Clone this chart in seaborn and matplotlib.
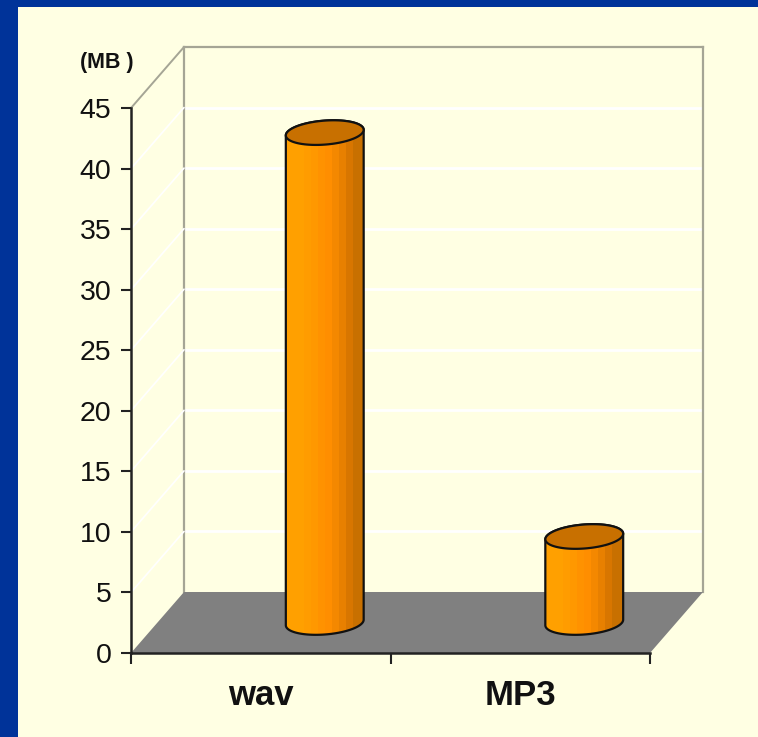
import numpy as np
import pandas as pd
import seaborn as sns
import matplotlib.pyplot as plt
from matplotlib.colors import ListedColormap
from matplotlib.patches import Polygon, Rectangle

# Values
formats = ['wav', 'MP3']
sizes_mb = [40.45, 7.1]
y_ticks = [0, 5, 10, 15, 20, 25, 30, 35, 40, 45]

W, H = 758, 737
NAVY = '#003399'
CREAM = '#FFFFE3'
WALL_EDGE = '#A5A595'
FLOOR = '#808080'
TOP_FACE = '#C87000'
BODY_BANDS = ['#FFA000', '#FFA000', '#FF9C00', '#FF9800', '#FF9200',
              '#FF8E00', '#F48800', '#E88000', '#D87600', '#C87000']

sns.set_theme(style='white')
plt.rcParams['font.family'] = ['Liberation Sans', 'DejaVu Sans']

df = pd.DataFrame({'format': formats, 'size': sizes_mb})

fig = plt.figure(figsize=(W / 100, H / 100), dpi=100, facecolor=NAVY)


def axes_px(left, top, right, bottom):
    # axes from pixel edges, y counted from the top of the picture
    a = fig.add_axes([left / W, 1 - bottom / H, (right - left) / W, (bottom - top) / H])
    a.patch.set_alpha(0)
    return a


# pixel geometry of the fake 3D box
X0, X1 = 131, 650
Y0, Y45 = 653, 108
DX, DY = 53, 61
PX_PER_MB = (Y0 - Y45) / 45

# background layer in pixels
bg = axes_px(0, 0, W, H)
bg.set_xlim(0, W)
bg.set_ylim(H, 0)
bg.axis('off')
bg.add_patch(Rectangle((18, 7), W - 18, H - 7, color=CREAM, lw=0))

# back wall: same scale as the front axis, pushed back by the depth
wall = axes_px(X0 + DX, Y45 - DY, X1 + DX, Y0 - DY)
wall.set_ylim(0, 45)
wall.set_xlim(0, 1)
wall.set_yticks(y_ticks[1:-1])
wall.set_xticks([])
wall.tick_params(left=False, labelleft=False)
wall.grid(axis='y', color='white', lw=2)
for name, sp in wall.spines.items():
    sp.set_color(WALL_EDGE)
    sp.set_linewidth(1.6)
wall.spines['bottom'].set_visible(False)

# left wall diagonals and floor
over = axes_px(0, 0, W, H)
over.set_xlim(0, W)
over.set_ylim(H, 0)
over.axis('off')
for v in y_ticks[1:-1]:
    y = Y0 - v * PX_PER_MB
    over.plot([X0, X0 + DX], [y, y - DY], color='white', lw=1.2, zorder=1)
over.plot([X0, X0 + DX], [Y45, Y45 - DY], color=WALL_EDGE, lw=1.4, zorder=1)
over.add_patch(Polygon([(X0, Y0), (X1, Y0), (X1 + DX, Y0 - DY), (X0 + DX, Y0 - DY)],
                       closed=True, color=FLOOR, lw=0, zorder=2))

# front axis with ticks and labels
ax = axes_px(X0, Y45, X1, Y0)
ax.set_xlim(-0.5, 1.5)
ax.set_ylim(0, 45)
ax.set_yticks(y_ticks)
ax.set_xticks([-0.5, 0.5, 1.5])
ax.set_xticklabels([])
ax.set_xticks([0, 1], minor=True)
ax.set_xticklabels(formats, minor=True, fontsize=25, fontweight='bold', color='#111111')
ax.tick_params(axis='y', left=True, length=7, width=1.5, color='#222222',
               labelsize=20.5, labelcolor='#111111', pad=7)
ax.tick_params(axis='x', which='major', bottom=True, length=8, width=1.5, color='#222222')
ax.tick_params(axis='x', which='minor', bottom=False, pad=15)
for name in ['top', 'right']:
    ax.spines[name].set_visible(False)
for name in ['left', 'bottom']:
    ax.spines[name].set_color('#222222')
    ax.spines[name].set_linewidth(1.8)
ax.text(-0.046, 1.084, '(MB )', transform=ax.transAxes, ha='center', va='center',
        fontsize=15.5, fontweight='bold', color='#111111')

# cylinders sit half way down the floor, axes run a little below zero for the round base
BAR_DX, BAR_DY = 64, 30.5
BELOW = 3
bar_ax = axes_px(X0 + BAR_DX, Y45 - BAR_DY, X1 + BAR_DX, Y0 - BAR_DY + BELOW * PX_PER_MB)
sns.barplot(data=df, x='format', y='size', width=0.3, ax=bar_ax)
bar_ax.axis('off')

MINOR = 12 / PX_PER_MB
SHEAR = 2.8 / PX_PER_MB
cmap = ListedColormap(BODY_BANDS)
t_low = np.linspace(np.pi, 2 * np.pi, 60)
t_up = np.linspace(0, np.pi, 60)
t_all = np.linspace(0, 2 * np.pi, 120)

for bar in list(bar_ax.patches):
    left, w, h = bar.get_x(), bar.get_width(), bar.get_height()
    cx, a = left + w / 2, w / 2
    bar.set_visible(False)
    xs = np.r_[cx + a * np.cos(t_low), cx + a * np.cos(t_up)]
    ys = np.r_[MINOR * np.sin(t_low) + SHEAR * np.cos(t_low),
               h + MINOR * np.sin(t_up) + SHEAR * np.cos(t_up)]
    verts = np.c_[xs, ys]
    clip = Polygon(verts, closed=True, transform=bar_ax.transData)
    im = bar_ax.imshow(np.arange(len(BODY_BANDS))[None, :], cmap=cmap, aspect='auto',
                       extent=(left, left + w, -BELOW, h + 2), zorder=3, interpolation='bilinear')
    im.set_clip_path(clip)
    bar_ax.add_patch(Polygon(verts, closed=True, facecolor='none', edgecolor='#111111',
                             lw=1.6, zorder=4))
    top = np.c_[cx + a * np.cos(t_all), h + MINOR * np.sin(t_all) + SHEAR * np.cos(t_all)]
    bar_ax.add_patch(Polygon(top, closed=True, facecolor=TOP_FACE, edgecolor='#111111',
                             lw=1.6, zorder=5))
bar_ax.set_xlim(-0.5, 1.5)
bar_ax.set_ylim(-BELOW, 45)

fig.savefig('out.png', dpi=100, facecolor=NAVY)
